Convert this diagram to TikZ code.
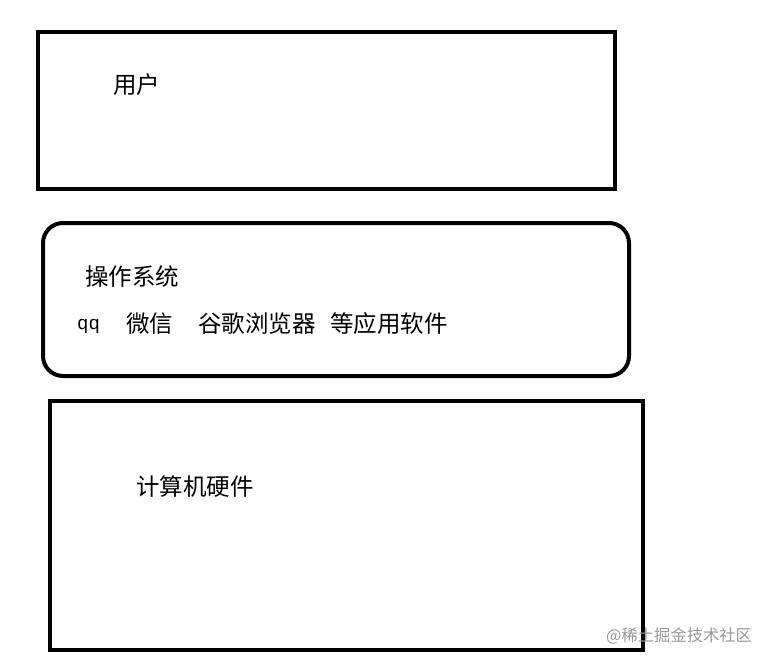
\documentclass[tikz,border=0pt]{standalone}
\usepackage{fontspec}
\newfontfamily\cjk{Noto Sans CJK SC}
\setmonofont{Liberation Mono}
\begin{document}
\begin{tikzpicture}[x=1pt,y=-1pt,
  box/.style={draw=black,line width=4pt},
  lbl/.style={anchor=west,inner sep=0pt,font=\cjk\fontsize{23.5}{23.5}\selectfont,text=black}]
\useasboundingbox (0,0) rectangle (770,666);
\fill[white] (0,0) rectangle (770,666);
\draw[box] (38,32) rectangle (615,189);
\draw[box,rounded corners=20pt] (43,223) rectangle (629,376);
\draw[box] (50,401) rectangle (643,650);
\node[lbl] (user) at (113,85) {用户};
\node[lbl] (os) at (85,277) {操作系统};
\node[lbl,font=\ttfamily\fontsize{19}{19}\selectfont] (qq) at (77,326) {qq};
\node[lbl] (wx) at (126,324) {微信};
\node[lbl] (gg) at (198,324) {谷歌浏览器};
\node[lbl] (app) at (330,324) {等应用软件};
\node[lbl] (hw) at (136,487) {计算机硬件};
\node[lbl,font=\cjk\fontsize{16.3}{16.3}\selectfont,text=black!40] (wm) at (606,636) {@稀土掘金技术社区};
\end{tikzpicture}
\end{document}
